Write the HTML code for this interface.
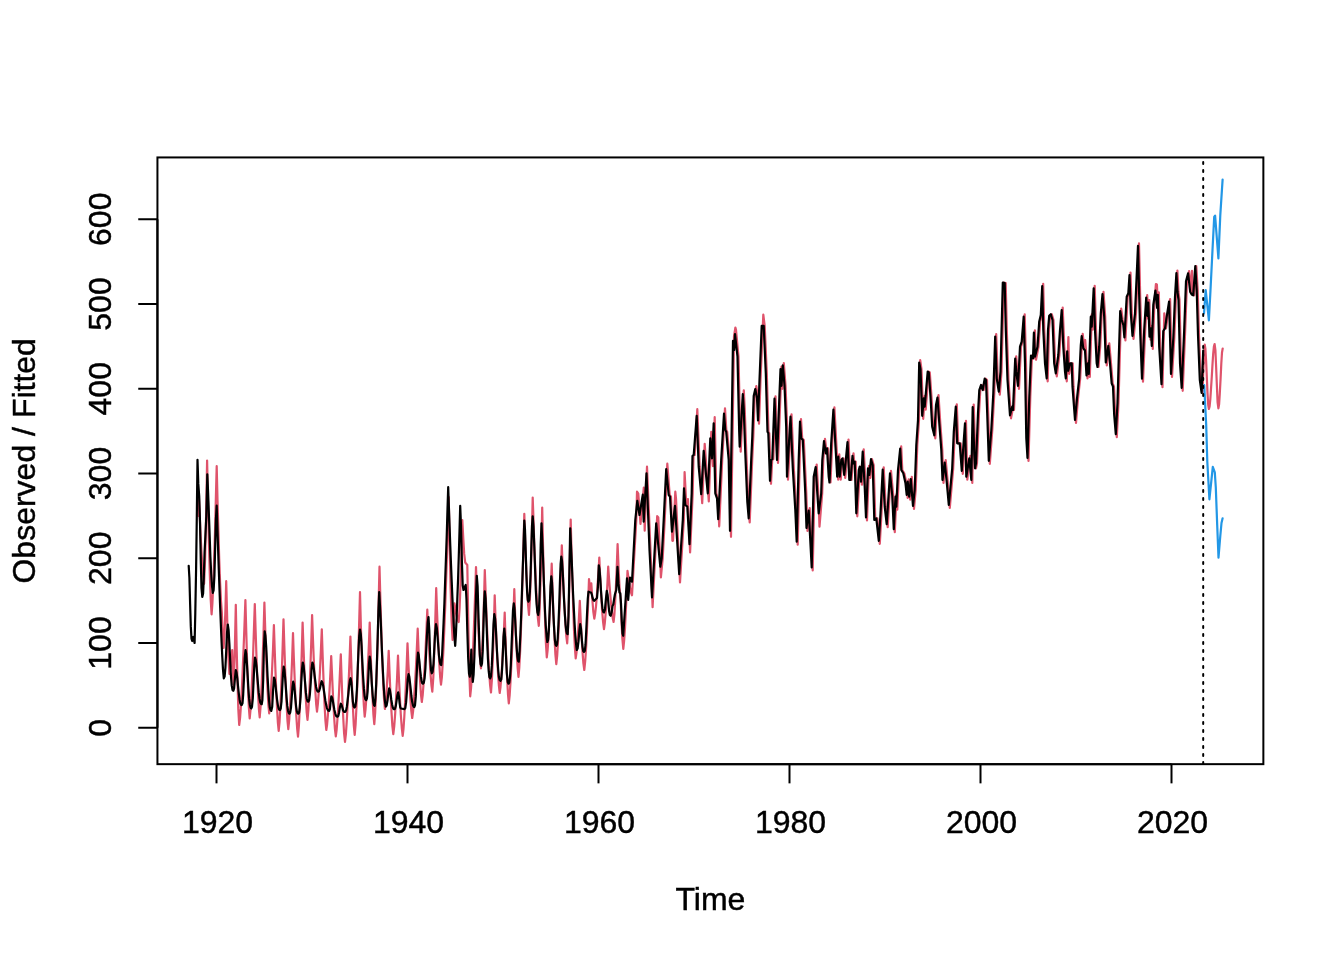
<!DOCTYPE html>
<html><head><meta charset="utf-8"><title>Holt-Winters filtering</title>
<style>
html,body{margin:0;padding:0;background:#fff;}
svg{display:block;}
text{font-family:"Liberation Sans",sans-serif;font-size:32px;fill:#000;stroke:#000;stroke-width:0.45px;}
</style></head><body>
<svg width="1344" height="960" viewBox="0 0 1344 960">
<rect x="0" y="0" width="1344" height="960" fill="#fff"/>
<polyline points="198.3,516.0 198.9,497.0 199.8,517.2 200.6,535.6 201.5,552.0 202.4,566.2 203.2,577.3 204.1,583.8 205.1,558.7 206.1,515.3 207.1,460.5 208.0,503.0 208.9,541.0 209.8,573.6 210.7,599.4 211.6,614.3 212.4,603.3 213.3,584.2 214.1,560.1 215.0,532.0 215.8,500.6 216.7,466.2 217.5,500.1 218.4,531.0 219.2,558.6 220.1,582.4 221.0,601.1 221.8,612.0 222.7,634.8 223.6,648.0 224.5,634.4 225.4,610.9 226.2,581.2 227.3,622.5 228.3,655.1 229.4,674.0 230.3,669.1 231.3,660.7 232.2,650.0 233.6,686.0 234.7,656.3 235.8,604.8 236.6,645.8 237.5,681.0 238.3,708.9 239.2,725.0 240.1,717.6 241.0,704.7 241.9,688.4 242.7,669.5 243.6,648.3 244.5,625.0 245.4,600.0 246.3,632.7 247.1,661.9 248.0,687.0 248.8,706.8 249.7,718.3 250.5,709.8 251.4,695.1 252.2,676.5 253.1,654.8 253.9,630.6 254.8,604.0 255.6,630.4 256.4,654.5 257.2,676.0 258.1,694.4 258.9,709.1 259.7,717.5 260.6,706.4 261.6,687.0 262.5,662.7 263.5,634.3 264.4,602.5 265.2,628.2 266.0,651.8 266.8,672.7 267.6,690.8 268.4,705.1 269.2,713.3 270.1,704.7 271.1,689.9 272.0,671.2 273.0,649.4 273.9,625.0 274.7,649.6 275.5,672.0 276.3,692.1 277.1,709.3 277.9,722.9 278.7,730.8 279.5,722.5 280.3,708.2 281.1,690.0 281.9,668.9 282.7,645.3 283.5,619.4 284.3,644.9 285.1,668.2 285.9,689.0 286.7,706.9 287.5,721.0 288.3,729.2 289.2,719.9 290.2,703.7 291.1,683.4 292.1,659.7 293.0,633.1 293.8,657.2 294.7,679.2 295.5,698.8 296.3,715.6 297.2,729.0 298.0,736.7 298.9,725.6 299.8,706.5 300.8,682.3 301.7,654.1 302.6,622.5 303.4,645.1 304.2,665.8 305.1,684.3 305.9,700.2 306.7,712.7 307.5,720.0 308.4,709.8 309.3,692.2 310.3,669.9 311.2,644.0 312.1,615.0 312.9,637.5 313.7,658.0 314.6,676.3 315.4,692.0 316.2,704.5 317.0,711.7 317.9,703.7 318.9,689.9 319.9,672.5 320.8,652.2 321.8,629.4 322.7,657.2 323.6,682.0 324.5,703.4 325.4,720.2 326.3,730.0 327.1,724.5 327.9,715.0 328.8,702.9 329.6,688.9 330.4,673.2 331.2,656.0 332.2,678.2 333.1,698.0 334.0,715.0 334.9,728.5 335.8,736.3 336.6,730.2 337.4,719.6 338.3,706.3 339.1,690.8 339.9,673.4 340.8,654.4 341.6,678.6 342.4,700.2 343.3,718.8 344.1,733.5 345.0,742.0 345.9,734.1 346.8,720.6 347.7,703.4 348.6,683.4 349.5,661.0 350.4,636.5 351.3,663.7 352.1,688.0 353.0,708.9 353.8,725.5 354.7,735.0 355.6,724.4 356.5,706.0 357.4,682.8 358.2,655.7 359.1,625.4 360.0,592.2 360.9,626.7 361.9,657.4 362.8,683.7 363.8,704.6 364.7,716.7 365.5,709.7 366.4,697.5 367.2,682.2 368.0,664.4 368.9,644.4 369.7,622.5 370.6,650.6 371.5,675.7 372.5,697.3 373.4,714.3 374.3,724.2 375.2,712.5 376.0,692.2 376.9,666.6 377.8,636.7 378.6,603.3 379.5,566.7 380.4,599.8 381.3,630.0 382.2,656.9 383.1,680.1 384.0,698.4 384.9,709.0 385.8,701.2 386.8,687.7 387.8,670.7 388.7,650.8 389.6,673.9 390.5,694.4 391.5,712.1 392.4,726.1 393.3,734.2 394.2,726.6 395.2,713.4 396.1,696.7 397.1,677.3 398.0,655.5 398.9,677.7 399.9,697.5 400.8,714.5 401.8,728.0 402.7,735.8 403.5,728.9 404.3,717.0 405.1,701.9 405.9,684.4 406.7,664.8 407.5,643.3 408.4,663.9 409.4,682.4 410.3,698.2 411.3,710.8 412.2,718.0 413.1,711.4 414.0,699.8 414.9,685.3 415.9,668.4 416.8,649.4 417.7,628.7 418.5,649.0 419.3,667.1 420.2,682.6 421.0,694.9 421.8,702.0 422.7,695.1 423.6,683.2 424.6,668.2 425.5,650.7 426.4,631.1 427.3,609.7 428.1,628.7 429.0,646.2 429.8,661.7 430.6,675.0 431.5,685.6 432.3,691.7 433.3,677.8 434.2,653.8 435.2,623.5 436.2,588.2 437.0,610.6 437.8,631.1 438.6,649.4 439.4,665.1 440.2,677.5 441.0,684.7 441.9,676.9 442.7,663.5 443.6,646.5 444.4,626.8 445.3,604.7 446.1,580.4 447.0,554.3 447.8,526.5 448.7,497.0 449.7,545.8 450.6,587.7 451.6,620.8 452.6,640.0 453.6,626.6 454.5,603.3 455.3,608.5 456.2,613.1 457.0,617.0 457.9,620.2 458.7,622.0 459.6,608.3 460.5,584.7 461.4,554.8 462.3,520.0 463.3,538.9 464.2,553.9 465.2,562.5 467.3,565.0 468.3,623.4 469.2,669.6 470.2,696.3 471.0,688.6 471.9,675.3 472.7,658.5 473.5,638.9 474.3,616.9 475.2,592.9 476.0,567.0 476.8,590.5 477.7,612.0 478.5,631.2 479.3,647.7 480.2,660.8 481.0,668.3 481.9,655.1 482.9,632.3 483.9,603.5 484.8,570.0 485.7,594.5 486.6,617.3 487.5,638.1 488.3,656.6 489.2,672.6 490.1,685.2 491.0,692.5 491.9,679.5 492.9,656.9 493.8,628.5 494.7,595.3 495.5,618.0 496.4,638.7 497.2,657.2 498.0,673.1 498.9,685.7 499.7,693.0 500.5,687.0 501.4,676.6 502.2,663.5 503.0,648.3 503.9,631.2 504.7,612.5 505.5,637.6 506.3,660.0 507.2,679.3 508.0,694.5 508.8,703.3 509.7,694.8 510.6,680.1 511.5,661.5 512.5,639.9 513.4,615.7 514.3,589.2 515.1,613.5 516.0,635.1 516.8,653.7 517.7,668.5 518.5,677.0 519.3,667.3 520.2,650.5 521.0,629.2 521.8,604.5 522.6,576.8 523.5,546.5 524.3,513.8 525.2,541.8 526.2,566.7 527.1,588.2 528.1,605.2 529.0,615.0 529.9,599.3 530.9,572.0 531.8,537.6 532.7,497.5 533.6,523.2 534.4,547.0 535.3,568.8 536.2,588.2 537.1,604.9 537.9,618.2 538.8,625.8 539.6,610.0 540.5,582.5 541.4,547.8 542.2,507.5 543.1,549.0 544.0,586.0 545.0,617.8 545.9,643.0 546.8,657.5 547.6,650.5 548.4,638.4 549.2,623.2 550.1,605.4 550.9,585.5 551.7,563.7 552.6,591.5 553.5,616.3 554.5,637.6 555.4,654.5 556.3,664.2 557.2,655.4 558.1,640.0 559.0,620.7 560.0,598.2 560.9,572.9 561.8,545.3 562.7,568.1 563.6,588.9 564.5,607.4 565.4,623.4 566.3,636.0 567.2,643.3 568.1,626.7 569.0,598.0 569.8,561.7 570.7,519.5 571.5,551.7 572.4,581.2 573.2,607.5 574.0,630.1 574.9,648.0 575.7,658.3 576.5,652.7 577.3,643.1 578.2,630.9 579.0,616.7 579.8,600.8 580.7,619.9 581.6,637.0 582.5,651.7 583.4,663.3 584.3,670.0 585.2,661.2 586.2,646.0 587.1,626.7 588.1,604.3 589.0,579.2 590.2,590.0 591.3,583.3 592.3,599.0 593.3,611.5 594.3,618.7 595.1,614.1 596.0,606.3 596.8,596.3 597.6,584.7 598.5,571.7 599.3,557.5 600.2,577.3 601.2,595.0 602.1,610.2 603.1,622.2 604.0,629.2 604.8,623.1 605.7,612.6 606.5,599.4 607.4,584.0 608.2,566.7 609.1,579.5 610.0,591.3 610.9,601.8 611.8,610.8 612.7,617.9 613.6,622.0 614.4,614.4 615.2,601.3 616.0,584.8 616.8,565.6 617.6,544.0 618.6,568.9 619.6,588.6 620.6,600.0 621.5,621.7 622.4,638.9 623.3,648.8 624.1,641.2 625.0,628.1 625.8,611.6 626.7,592.4 627.5,570.8 628.4,577.6 629.3,583.6 630.2,588.8 631.1,592.9 632.0,595.3 636.3,520.0 637.0,491.7 638.3,493.6 640.5,524.0 643.8,487.5 644.7,530.7 647.0,466.7 650.5,550.0 652.6,607.2 657.2,516.1 658.3,517.5 660.9,577.5 662.7,558.3 664.7,520.0 667.3,463.7 669.7,495.0 671.0,496.7 672.4,540.8 673.0,540.7 675.3,491.7 676.0,498.6 680.0,582.5 683.8,520.0 684.6,472.0 686.3,505.0 687.9,499.0 690.1,552.5 692.7,493.3 693.5,455.8 694.7,455.0 697.3,409.2 699.7,466.7 702.2,503.1 704.7,443.9 708.8,501.5 711.3,431.9 713.0,466.1 714.7,417.2 716.3,493.3 718.0,498.3 719.2,526.4 722.2,460.0 725.0,408.4 726.3,430.0 727.2,431.7 729.7,460.0 731.0,536.8 732.7,426.7 734.0,336.2 735.4,327.5 736.0,329.8 738.5,356.7 740.2,431.7 740.7,451.7 743.8,390.4 744.7,408.3 746.3,453.3 748.3,501.7 749.7,522.4 752.2,460.0 753.3,436.7 754.7,396.0 756.3,386.2 758.0,398.3 759.0,423.7 760.5,380.0 763.3,314.7 764.7,325.8 766.8,373.3 768.5,431.7 769.3,433.3 771.0,483.8 772.2,460.0 773.3,459.2 775.5,396.3 778.0,463.0 780.5,393.3 781.5,366.6 782.5,388.8 783.8,363.0 785.5,385.0 787.2,426.7 788.0,479.7 791.5,414.3 793.8,468.3 796.3,510.0 797.7,544.7 799.7,460.0 801.0,419.1 802.2,438.3 803.8,440.0 806.3,493.3 807.5,531.0 809.7,508.1 812.7,570.5 814.7,476.7 816.7,464.6 818.3,493.3 819.5,526.7 822.2,493.3 823.3,460.0 825.0,438.8 826.8,453.3 828.0,448.3 829.7,476.7 830.5,482.5 832.2,443.3 834.4,407.3 836.5,446.7 838.2,479.7 839.3,454.3 840.7,479.7 842.3,460.0 843.5,458.3 845.2,478.0 846.5,463.3 848.5,439.6 850.3,480.0 851.5,480.0 853.5,453.4 854.3,463.3 855.7,461.7 857.3,516.3 859.8,470.0 860.7,466.7 862.0,484.7 863.7,449.3 865.7,486.7 867.0,520.5 869.0,465.9 870.3,478.0 872.0,459.2 873.7,465.0 875.3,520.0 877.3,518.3 879.8,543.8 881.5,513.3 883.7,467.3 885.7,506.7 887.7,527.2 891.0,470.9 893.2,495.0 894.8,532.2 896.5,494.3 897.3,509.7 899.0,470.0 901.2,446.3 902.3,470.0 904.3,473.3 906.5,483.3 907.7,498.0 908.7,479.3 910.2,499.7 911.8,476.8 914.0,508.8 915.7,490.0 917.3,445.0 919.0,420.0 920.2,360.1 921.5,369.2 923.2,418.8 924.8,395.9 925.7,409.7 928.7,371.7 929.8,372.5 931.5,396.7 933.2,426.7 935.3,438.3 937.0,405.0 938.5,395.1 940.3,423.3 942.3,450.0 943.5,483.0 945.7,460.1 947.7,481.7 949.8,508.0 953.2,468.3 954.8,431.7 956.8,404.3 958.2,443.3 960.7,443.3 962.8,473.8 964.3,446.7 966.0,420.9 967.3,479.7 970.3,455.9 972.3,483.0 973.7,404.6 975.3,454.2 976.0,468.3 977.0,463.3 979.0,413.3 980.3,390.0 982.0,385.0 983.7,390.0 985.7,378.7 987.0,380.0 988.2,413.3 989.8,463.8 992.3,430.0 994.3,393.3 996.2,334.1 997.7,378.3 999.8,394.7 1001.5,371.7 1003.8,282.5 1005.7,283.0 1006.8,330.0 1008.5,380.0 1011.0,418.3 1013.2,406.7 1014.0,410.0 1016.2,356.3 1017.3,371.7 1019.0,388.8 1021.0,346.7 1022.7,341.7 1024.7,314.3 1026.0,363.3 1027.3,438.3 1028.5,461.0 1030.3,396.7 1032.0,355.5 1034.0,358.3 1034.9,330.3 1036.0,359.7 1038.5,346.7 1040.2,321.7 1041.8,315.0 1043.2,283.8 1044.3,330.0 1046.0,363.3 1047.7,381.3 1049.0,330.0 1050.2,315.8 1051.8,314.2 1053.5,320.0 1055.2,363.3 1056.8,376.3 1059.3,355.0 1061.0,330.0 1062.7,307.6 1064.3,346.7 1066.0,371.7 1066.8,381.3 1068.4,337.0 1069.2,373.8 1071.0,363.3 1072.7,363.3 1073.5,386.7 1076.0,423.0 1078.0,398.3 1080.2,378.3 1081.8,345.0 1082.7,333.8 1084.3,348.3 1085.2,340.0 1086.0,350.5 1087.5,378.5 1089.0,360.9 1089.8,377.0 1091.8,314.3 1092.7,329.7 1094.7,285.9 1096.0,330.0 1097.7,363.3 1098.5,367.0 1100.2,346.7 1101.8,313.3 1103.5,291.8 1105.2,316.7 1106.8,365.5 1109.3,343.4 1111.0,363.3 1112.7,383.3 1114.0,386.7 1115.2,415.0 1116.8,437.2 1118.5,403.0 1119.7,360.0 1121.2,308.6 1122.7,320.0 1124.3,325.0 1125.4,340.5 1127.7,296.7 1129.3,293.3 1130.5,272.6 1131.8,313.3 1133.5,339.0 1136.0,313.3 1137.7,275.0 1139.0,243.4 1140.2,296.7 1141.3,335.0 1143.0,381.7 1145.2,330.0 1147.2,295.1 1148.2,318.8 1149.3,300.1 1150.5,339.7 1151.8,325.9 1152.8,349.0 1154.3,305.0 1155.9,284.0 1156.9,284.5 1158.1,310.8 1158.8,292.4 1160.2,346.7 1162.5,387.2 1164.3,313.3 1166.0,328.3 1167.7,316.7 1170.1,299.1 1172.0,376.9 1174.3,338.3 1176.0,296.7 1177.4,270.6 1178.5,292.0 1179.5,300.0 1181.0,363.3 1182.7,390.8 1185.2,330.0 1187.0,281.3 1189.1,271.0 1191.2,292.0 1192.0,270.8 1192.7,294.5 1194.2,295.3 1196.3,266.2 1197.7,290.0 1199.0,335.0 1200.8,379.8 1202.6,392.8 1203.2,372.0 1204.7,344.5 1205.4,348.8 1206.1,360.6 1206.8,376.8 1207.5,392.9 1208.2,404.7 1208.9,409.0 1209.6,406.5 1210.3,399.5 1211.0,388.9 1211.8,376.5 1212.5,364.1 1213.2,353.5 1213.9,346.5 1214.6,344.0 1215.4,350.1 1216.1,366.2 1216.9,386.2 1217.6,402.3 1218.4,408.4 1219.1,404.4 1219.8,393.4 1220.6,378.4 1221.3,363.5 1222.0,352.5 1222.7,348.5" fill="none" stroke="#DF536B" stroke-width="2.2" stroke-linejoin="round" stroke-linecap="round" />
<polyline points="1204.0,313.5 1205.7,290.1 1208.9,320.3 1210.5,290.0 1212.5,250.0 1214.2,217.0 1215.1,215.7 1218.4,258.4 1220.3,215.0 1222.6,179.6" fill="none" stroke="#2297E6" stroke-width="2.2" stroke-linejoin="round" stroke-linecap="round" />
<polyline points="1204.2,385.0 1206.2,425.0 1207.3,461.5 1209.4,499.3 1212.8,466.9 1214.8,472.4 1215.8,487.5 1217.2,525.0 1218.5,557.7 1220.3,536.0 1221.5,523.0 1222.6,518.3" fill="none" stroke="#2297E6" stroke-width="2.2" stroke-linejoin="round" stroke-linecap="round" />
<line x1="1203.2" y1="763.96" x2="1203.2" y2="157.44" stroke="#000" stroke-width="2" stroke-dasharray="2 6" stroke-linecap="round"/>
<polyline points="188.7,565.8 189.4,577.7 190.1,603.2 190.8,626.4 191.5,638.6 192.2,641.0 193.4,637.0 194.6,643.0 195.3,612.8 196.1,568.6 196.8,517.0 197.5,459.8 198.3,483.9 199.2,496.0 200.0,521.8 200.8,561.3 201.5,588.2 202.3,597.0 203.1,593.6 203.8,577.3 204.6,551.8 205.3,538.0 206.3,516.7 207.3,474.3 208.1,492.6 208.9,514.3 209.7,536.7 210.4,557.0 211.2,573.6 212.0,585.8 212.8,593.0 213.6,590.2 214.4,576.1 215.1,549.1 215.9,519.5 216.7,505.7 217.4,527.8 218.1,549.2 218.8,569.7 219.5,589.5 220.2,608.2 220.9,625.9 221.6,642.2 222.3,657.0 223.0,669.6 223.8,678.3 224.6,676.6 225.4,667.9 226.2,651.3 227.0,633.0 227.8,624.5 228.6,630.1 229.4,644.0 230.2,660.8 230.9,675.5 231.7,685.4 232.5,689.9 233.3,690.8 234.1,688.3 235.0,677.9 235.8,670.0 236.5,672.3 237.3,678.2 238.0,685.8 238.8,693.3 239.5,699.2 240.2,703.0 241.0,704.7 241.7,705.0 242.5,703.3 243.2,694.3 244.0,677.3 244.7,658.7 245.5,650.0 246.2,653.8 246.9,663.7 247.7,676.4 248.4,688.8 249.1,698.7 249.9,705.0 250.6,707.8 251.3,708.3 252.0,706.7 252.8,698.5 253.5,682.8 254.3,665.5 255.0,657.5 255.7,659.9 256.5,666.4 257.2,675.2 258.0,684.3 258.7,692.4 259.5,698.5 260.2,702.2 261.0,703.9 261.7,704.2 262.4,700.0 263.2,679.9 263.9,648.5 264.7,631.4 265.4,635.6 266.2,646.5 266.9,661.4 267.6,677.0 268.4,690.8 269.1,701.1 269.8,707.5 270.6,710.3 271.3,710.8 272.2,706.7 273.1,690.1 274.0,677.5 274.8,679.6 275.5,685.1 276.2,692.2 277.0,699.1 277.8,704.6 278.5,708.1 279.2,709.7 280.0,710.0 280.7,708.6 281.5,701.6 282.2,688.2 283.0,673.5 283.7,666.6 284.4,669.7 285.1,677.6 285.9,687.9 286.6,698.0 287.3,705.9 288.1,711.0 288.8,713.3 289.5,713.7 290.2,712.7 291.0,707.5 291.7,697.6 292.5,686.8 293.2,681.7 293.9,684.4 294.7,691.1 295.4,699.2 296.1,706.3 296.8,711.1 297.6,713.3 298.3,713.7 299.1,712.7 299.8,707.5 300.6,696.6 301.3,681.9 302.1,668.3 302.8,662.5 303.6,665.8 304.4,674.0 305.2,684.0 305.9,692.7 306.7,698.5 307.5,701.2 308.3,701.7 309.1,700.5 309.9,694.1 310.8,682.0 311.6,668.7 312.4,662.5 313.1,664.4 313.9,669.3 314.6,675.7 315.4,681.9 316.1,686.9 316.8,690.0 317.6,691.4 318.3,691.7 319.1,691.1 320.0,688.2 320.9,683.7 321.7,681.2 322.4,682.5 323.2,685.9 323.9,690.6 324.7,695.9 325.4,700.9 326.2,705.1 326.9,708.1 327.7,709.9 328.4,710.7 329.2,710.8 329.9,709.0 330.6,701.8 331.3,696.3 332.1,697.6 332.9,701.1 333.6,705.5 334.4,709.9 335.2,713.3 335.9,715.5 336.7,716.5 337.5,716.7 338.3,716.0 339.1,712.4 340.0,706.7 340.8,703.7 341.6,705.0 342.4,707.8 343.1,710.4 343.9,711.7 344.7,712.0 345.4,711.7 346.2,710.1 346.9,706.4 347.6,700.7 348.4,693.5 349.1,686.1 349.9,680.4 350.6,678.2 351.4,682.8 352.2,692.8 352.9,701.8 353.7,706.6 354.5,707.5 355.3,706.5 356.1,701.1 356.9,689.5 357.6,672.2 358.4,652.5 359.2,636.1 360.0,629.5 360.8,634.1 361.6,646.0 362.3,661.4 363.1,676.5 363.9,688.4 364.6,696.0 365.4,699.4 366.2,700.0 366.9,698.6 367.6,691.6 368.3,678.2 369.0,663.5 369.7,656.7 370.4,660.9 371.1,671.2 371.8,683.6 372.6,694.5 373.3,701.8 374.0,705.2 374.7,705.8 375.4,698.3 376.2,684.0 376.9,662.9 377.7,637.2 378.4,611.5 379.2,592.0 379.9,604.4 380.7,620.1 381.4,637.6 382.1,655.1 382.9,671.0 383.6,684.4 384.3,694.8 385.1,702.3 385.8,706.7 386.6,705.6 387.5,700.6 388.4,692.6 389.2,688.3 389.9,690.1 390.6,694.5 391.3,699.7 392.1,704.4 392.8,707.5 393.5,708.9 394.2,709.2 395.0,708.7 395.8,705.9 396.6,700.7 397.4,695.0 398.2,692.3 398.9,696.1 399.6,703.1 400.3,707.6 401.0,708.5 404.5,709.2 405.3,708.1 406.1,702.4 406.9,691.6 407.7,679.7 408.5,674.2 409.2,676.4 409.9,681.9 410.7,689.0 411.4,696.0 412.1,701.6 412.9,705.1 413.6,706.7 414.3,707.0 415.0,705.3 415.8,696.4 416.5,679.6 417.3,661.1 418.0,652.5 418.7,655.1 419.4,661.7 420.1,669.6 420.9,676.5 421.6,681.2 422.3,683.3 423.0,683.7 423.8,682.8 424.6,678.3 425.4,668.3 426.1,653.5 426.9,636.6 427.7,622.6 428.5,617.0 429.3,630.2 430.1,654.5 431.0,670.1 431.8,673.3 432.6,671.7 433.5,663.8 434.3,648.6 435.2,632.0 436.0,624.2 436.8,627.7 437.5,636.2 438.3,646.5 439.0,655.6 439.8,661.7 440.5,664.5 441.3,665.0 442.1,654.8 442.8,639.8 443.6,622.4 444.4,603.0 445.1,582.2 445.9,560.0 446.7,536.8 447.4,512.4 448.2,487.2 448.9,507.5 449.6,527.1 450.3,546.0 451.0,564.2 451.7,581.4 452.4,597.6 453.1,612.6 453.8,626.2 454.5,637.9 455.2,645.8 455.9,634.6 456.6,618.3 457.3,599.3 458.1,578.2 458.8,555.4 459.5,531.2 460.2,505.8 461.0,525.5 461.9,561.9 462.7,585.2 463.5,590.0 465.7,585.0 466.5,599.8 467.3,630.5 468.2,658.5 469.0,673.4 469.8,676.7 470.6,667.7 471.3,649.7 472.1,671.2 472.8,682.0 473.6,674.7 474.4,656.7 475.2,628.1 476.0,596.6 476.8,575.8 477.6,586.0 478.3,609.8 479.1,635.7 479.8,654.8 480.6,664.1 481.3,665.8 482.0,663.4 482.7,651.4 483.4,628.3 484.1,603.1 484.8,591.3 485.6,598.7 486.3,616.9 487.1,638.9 487.9,658.3 488.7,671.2 489.4,677.2 490.2,678.3 491.0,676.3 491.8,665.9 492.7,646.1 493.5,624.3 494.3,614.2 495.1,618.6 495.9,629.8 496.6,644.3 497.4,658.6 498.2,669.8 498.9,677.0 499.7,680.2 500.5,680.8 501.3,679.2 502.0,670.7 502.8,654.6 503.5,636.9 504.3,628.7 505.1,637.4 506.0,656.0 506.8,673.0 507.7,682.0 508.5,683.7 509.3,682.7 510.0,677.1 510.8,665.2 511.5,647.3 512.3,627.0 513.0,610.1 513.8,603.3 514.5,608.2 515.2,620.5 515.9,635.3 516.7,648.3 517.4,656.9 518.1,661.0 518.8,661.7 519.6,650.4 520.4,634.0 521.2,614.8 521.9,593.5 522.7,570.5 523.5,546.1 524.3,520.5 525.0,529.7 525.7,551.2 526.4,574.6 527.1,591.8 527.8,600.1 528.5,601.7 529.2,600.0 529.9,591.3 530.6,573.2 531.3,548.6 532.0,525.9 532.7,516.3 533.5,526.7 534.3,546.6 535.1,569.7 535.8,590.1 536.6,604.5 537.4,612.3 538.2,615.0 539.0,609.3 539.9,584.1 540.7,545.1 541.5,523.3 542.2,539.1 543.0,557.7 543.7,577.4 544.4,596.2 545.1,612.7 545.8,626.0 546.6,636.0 547.3,642.0 548.1,639.9 548.9,629.3 549.7,609.0 550.5,586.7 551.3,576.3 552.0,582.2 552.7,596.8 553.4,614.3 554.2,629.8 554.9,640.1 555.6,644.9 556.3,645.8 557.0,644.7 557.7,638.5 558.4,625.3 559.2,605.5 559.9,582.9 560.6,564.2 561.3,556.7 562.0,560.8 562.7,571.5 563.4,586.0 564.1,601.2 564.9,614.7 565.6,624.8 566.3,631.0 567.0,633.7 567.7,634.2 568.5,616.3 569.4,569.7 570.2,528.3 570.9,543.3 571.7,560.0 572.4,577.4 573.1,594.3 573.9,610.0 574.6,623.8 575.3,635.3 576.1,644.3 576.8,650.0 577.6,648.5 578.5,641.4 579.4,630.3 580.2,624.2 581.0,628.6 581.7,638.0 582.5,646.6 583.2,651.1 584.0,652.0 584.8,650.8 585.5,644.7 586.2,631.9 587.0,614.5 587.8,598.5 588.5,591.7 591.0,592.5 591.8,594.4 592.6,598.0 593.5,600.3 594.3,600.8 597.0,598.0 597.9,587.1 598.8,565.3 599.5,569.3 600.3,579.2 601.0,591.1 601.8,601.6 602.5,608.7 603.3,611.9 604.0,612.5 604.9,609.9 605.9,599.0 606.8,590.8 607.6,594.7 608.4,603.2 609.1,611.0 609.9,615.0 610.7,615.8 611.6,612.5 612.5,606.0 613.3,604.5 614.2,598.5 615.0,594.0 616.3,590.0 617.5,566.8 618.5,583.9 619.5,592.5 620.3,593.3 621.0,603.3 621.8,621.6 622.5,633.4 623.2,635.8 627.0,578.3 628.2,600.0 630.0,577.5 632.0,581.7 635.3,520.0 637.3,500.8 639.5,515.0 642.8,494.7 643.7,521.7 646.5,473.3 649.5,550.0 652.0,597.5 656.2,523.3 660.3,566.7 661.7,558.3 663.7,520.0 666.2,469.2 668.7,495.0 670.0,496.7 672.0,531.7 675.0,505.8 679.2,574.2 682.8,520.0 684.0,488.3 685.3,505.0 687.3,506.7 689.5,544.2 691.7,493.3 692.5,455.8 693.7,455.0 696.7,415.8 698.7,466.7 701.2,494.2 703.7,450.8 707.8,493.3 710.3,438.3 712.0,458.3 713.7,423.3 715.3,493.3 717.0,498.3 718.2,519.2 721.2,460.0 724.0,413.7 725.3,430.0 726.2,431.7 728.7,460.0 730.0,530.8 731.7,426.7 733.0,340.8 734.2,350.0 735.0,334.2 737.5,356.7 739.2,431.7 739.7,446.7 742.8,394.2 743.7,408.3 745.3,453.3 747.3,501.7 748.7,518.3 751.2,460.0 752.3,436.7 753.7,396.0 755.3,389.0 757.0,398.3 758.0,420.5 759.5,380.0 761.7,325.8 763.7,325.8 765.8,373.3 767.5,431.7 768.3,433.3 770.0,480.8 771.2,460.0 772.3,459.2 774.5,398.7 777.0,460.0 779.5,393.3 780.5,369.0 781.5,385.8 782.8,365.4 784.5,385.0 786.2,426.7 787.0,476.7 790.5,416.7 792.8,468.3 795.3,510.0 796.7,541.7 798.7,460.0 800.0,421.5 801.2,438.3 802.8,440.0 805.3,493.3 806.5,528.0 808.7,510.5 811.7,567.5 813.7,476.7 815.7,467.0 817.3,493.3 818.7,513.3 821.2,493.3 822.3,460.0 824.0,441.2 825.8,453.3 827.0,448.3 828.7,476.7 829.5,482.5 831.2,443.3 833.4,409.7 835.5,446.7 837.2,476.7 838.3,456.7 839.7,476.7 841.3,460.0 842.5,458.3 844.2,475.0 845.5,463.3 847.5,442.0 849.3,480.0 850.5,480.0 852.5,455.8 853.3,463.3 854.7,461.7 856.3,513.3 858.8,470.0 859.7,466.7 861.0,481.7 862.7,451.7 864.7,486.7 866.0,517.5 868.0,468.3 869.3,475.0 871.0,459.2 872.7,465.0 874.3,520.0 876.3,518.3 878.8,540.8 880.5,513.3 882.7,469.7 884.7,506.7 886.7,524.2 890.0,473.3 892.2,495.0 893.8,529.2 895.5,496.7 896.3,506.7 898.0,470.0 900.2,448.7 901.3,470.0 903.3,473.3 905.5,483.3 906.7,495.0 907.7,481.7 909.2,496.7 910.8,479.2 913.0,505.8 914.7,490.0 916.3,445.0 918.0,420.0 919.2,362.5 920.5,369.2 922.2,415.8 923.8,398.3 924.7,406.7 927.7,371.7 928.8,372.5 930.5,396.7 932.2,426.7 934.3,435.3 936.0,405.0 937.5,397.5 939.3,423.3 941.3,450.0 942.5,480.0 944.7,462.5 946.7,481.7 948.8,505.0 952.2,468.3 953.8,431.7 955.8,406.7 957.2,443.3 959.7,443.3 961.8,470.8 963.3,446.7 965.0,423.3 966.3,476.7 969.3,458.3 971.3,480.0 972.7,407.0 974.3,454.2 975.0,468.3 976.0,463.3 978.0,413.3 979.3,390.0 981.0,385.0 982.7,390.0 984.7,378.7 986.0,380.0 987.2,413.3 988.8,460.8 991.3,430.0 993.3,393.3 995.2,336.5 996.7,378.3 998.8,391.7 1000.5,371.7 1002.8,282.5 1004.7,283.0 1005.8,330.0 1007.5,380.0 1010.0,415.3 1012.2,406.7 1013.0,410.0 1015.2,358.7 1016.3,371.7 1018.0,385.8 1020.0,346.7 1021.7,341.7 1023.7,316.7 1025.0,363.3 1026.3,438.3 1027.5,458.0 1029.3,396.7 1031.0,355.5 1033.0,358.3 1033.9,332.7 1035.0,356.7 1037.5,346.7 1039.2,321.7 1040.8,315.0 1042.2,286.2 1043.3,330.0 1045.0,363.3 1046.7,378.3 1048.0,330.0 1049.2,315.8 1050.8,314.2 1052.5,320.0 1054.2,363.3 1055.8,373.3 1058.3,355.0 1060.0,330.0 1061.7,310.0 1063.3,346.7 1065.0,371.7 1065.8,378.3 1067.2,351.3 1068.2,370.8 1070.0,363.3 1071.7,363.3 1072.5,386.7 1075.0,420.0 1077.0,398.3 1079.2,378.3 1080.8,345.0 1081.7,336.2 1083.3,348.3 1085.0,350.5 1086.5,375.5 1088.0,363.3 1088.8,374.0 1090.8,316.7 1091.7,326.7 1093.7,288.3 1095.0,330.0 1096.7,363.3 1097.5,367.0 1099.2,346.7 1100.8,313.3 1102.5,294.2 1104.2,316.7 1105.8,362.5 1108.3,345.8 1110.0,363.3 1111.7,383.3 1113.0,386.7 1114.2,415.0 1115.8,434.2 1117.5,403.0 1118.7,360.0 1120.2,311.0 1121.7,320.0 1123.3,325.0 1124.4,337.5 1126.7,296.7 1128.3,293.3 1129.5,275.0 1130.8,313.3 1132.5,336.0 1135.0,313.3 1136.7,275.0 1138.0,245.8 1139.2,296.7 1140.3,335.0 1142.0,378.7 1144.2,330.0 1146.2,297.5 1147.2,315.8 1148.3,302.5 1149.5,336.7 1150.8,328.3 1151.8,346.0 1153.3,305.0 1155.4,290.6 1157.1,307.8 1157.8,294.8 1159.2,346.7 1161.5,384.2 1163.3,331.0 1165.0,328.3 1166.7,316.7 1169.1,301.5 1171.0,373.9 1173.3,338.3 1175.0,296.7 1176.4,273.0 1177.5,292.0 1178.5,300.0 1180.0,363.3 1181.7,387.8 1184.2,330.0 1186.0,281.3 1188.1,273.4 1190.2,292.0 1191.7,294.5 1193.2,295.3 1195.3,266.2 1196.7,290.0 1198.0,335.0 1199.8,379.8 1201.6,392.8 1203.2,350.5" fill="none" stroke="#000" stroke-width="2.2" stroke-linejoin="round" stroke-linecap="round" />
<rect x="157.44" y="157.44" width="1105.92" height="606.72" fill="none" stroke="#000" stroke-width="2"/>
<line x1="216.50" y1="764.16" x2="1171.50" y2="764.16" stroke="#000" stroke-width="2"/>
<line x1="216.50" y1="764.16" x2="216.50" y2="783.36" stroke="#000" stroke-width="2"/>
<text x="217.50" y="833.3" text-anchor="middle">1920</text>
<line x1="407.50" y1="764.16" x2="407.50" y2="783.36" stroke="#000" stroke-width="2"/>
<text x="408.50" y="833.3" text-anchor="middle">1940</text>
<line x1="598.50" y1="764.16" x2="598.50" y2="783.36" stroke="#000" stroke-width="2"/>
<text x="599.50" y="833.3" text-anchor="middle">1960</text>
<line x1="789.50" y1="764.16" x2="789.50" y2="783.36" stroke="#000" stroke-width="2"/>
<text x="790.50" y="833.3" text-anchor="middle">1980</text>
<line x1="980.50" y1="764.16" x2="980.50" y2="783.36" stroke="#000" stroke-width="2"/>
<text x="981.50" y="833.3" text-anchor="middle">2000</text>
<line x1="1171.50" y1="764.16" x2="1171.50" y2="783.36" stroke="#000" stroke-width="2"/>
<text x="1172.50" y="833.3" text-anchor="middle">2020</text>
<line x1="157.44" y1="727.75" x2="157.44" y2="219.25" stroke="#000" stroke-width="2"/>
<line x1="138.24" y1="727.75" x2="157.44" y2="727.75" stroke="#000" stroke-width="2"/>
<text transform="translate(111.3,727.75) rotate(-90)" text-anchor="middle">0</text>
<line x1="138.24" y1="643.00" x2="157.44" y2="643.00" stroke="#000" stroke-width="2"/>
<text transform="translate(111.3,643.00) rotate(-90)" text-anchor="middle">100</text>
<line x1="138.24" y1="558.25" x2="157.44" y2="558.25" stroke="#000" stroke-width="2"/>
<text transform="translate(111.3,558.25) rotate(-90)" text-anchor="middle">200</text>
<line x1="138.24" y1="473.50" x2="157.44" y2="473.50" stroke="#000" stroke-width="2"/>
<text transform="translate(111.3,473.50) rotate(-90)" text-anchor="middle">300</text>
<line x1="138.24" y1="388.75" x2="157.44" y2="388.75" stroke="#000" stroke-width="2"/>
<text transform="translate(111.3,388.75) rotate(-90)" text-anchor="middle">400</text>
<line x1="138.24" y1="304.00" x2="157.44" y2="304.00" stroke="#000" stroke-width="2"/>
<text transform="translate(111.3,304.00) rotate(-90)" text-anchor="middle">500</text>
<line x1="138.24" y1="219.25" x2="157.44" y2="219.25" stroke="#000" stroke-width="2"/>
<text transform="translate(111.3,219.25) rotate(-90)" text-anchor="middle">600</text>
<text x="710.4" y="910" text-anchor="middle">Time</text>
<text transform="translate(34.8,460.8) rotate(-90)" text-anchor="middle">Observed / Fitted</text>
</svg></body></html>
